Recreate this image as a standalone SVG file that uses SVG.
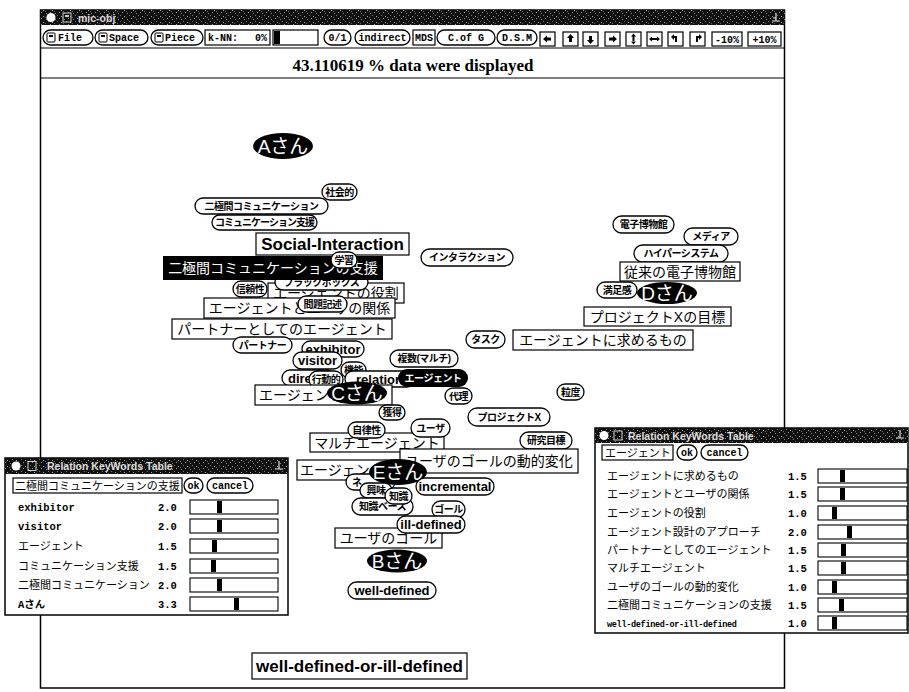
<svg xmlns="http://www.w3.org/2000/svg" width="909" height="692" viewBox="0 0 909 692">
<defs>
<pattern id="nz" width="9" height="6" patternUnits="userSpaceOnUse"><rect width="9" height="6" fill="#111"/><rect x="1" y="1" width="1" height="1" fill="#888"/><rect x="5" y="0" width="1" height="1" fill="#999"/><rect x="3" y="3" width="1" height="1" fill="#777"/><rect x="7" y="4" width="1" height="1" fill="#aaa"/><rect x="0" y="5" width="1" height="1" fill="#666"/></pattern>
<clipPath id="clipE"><rect x="297" y="460" width="103" height="20"/></clipPath>
<clipPath id="clipRel"><rect x="345" y="371" width="70" height="16" rx="8"/></clipPath>
</defs>
<style>
.box{fill:#fff;stroke:#000;stroke-width:1.2}
.pill{fill:#fff;stroke:#000;stroke-width:1.3}
.bk{fill:#000}
.fr{fill:#fff;stroke:#000;stroke-width:1.5}
.ln{stroke:#000;stroke-width:1.2}
.jb{font-family:"Liberation Sans","Noto Sans CJK JP",sans-serif;font-size:14px;fill:#000}
.jbc{font-family:"Liberation Sans","Noto Sans CJK JP",sans-serif;font-size:14px;fill:#000;text-anchor:middle}
.jp{font-family:"Liberation Sans","Noto Sans CJK JP",sans-serif;font-size:10px;font-weight:bold;text-anchor:middle;letter-spacing:-0.5px}
.lp{font-family:"Liberation Sans",sans-serif;font-size:13px;font-weight:bold;text-anchor:middle}
.lb{font-family:"Liberation Sans",sans-serif;font-size:17px;font-weight:bold;text-anchor:middle}
.per{font-family:"Liberation Sans","Noto Sans CJK JP",sans-serif;font-size:19px;fill:#fff;text-anchor:middle}
.tb{font-family:"Liberation Mono",monospace;font-size:10px;font-weight:bold;fill:#000}
.tbc{font-family:"Liberation Mono",monospace;font-size:10px;font-weight:bold;fill:#000;text-anchor:middle}
.tt{font-family:"Liberation Sans",sans-serif;font-size:10.5px;font-weight:bold;fill:#ddd}
.rj{font-family:"Liberation Mono","Noto Sans CJK JP",monospace;font-size:11px;fill:#000}
.rl{font-family:"Liberation Mono","Noto Sans CJK JP",monospace;font-size:10.5px;font-weight:bold;fill:#000}
.st{font-family:"Liberation Serif",serif;font-size:17px;font-weight:bold;text-anchor:middle}
.sl{fill:#fff;stroke:#000;stroke-width:1.1}
</style>

<g id="main-window">
<rect class="fr" x="40.5" y="10" width="744" height="678"/>
<rect x="40" y="10" width="745" height="15" fill="url(#nz)"/>
<circle cx="51" cy="17.5" r="4.5" fill="#fff"/>
<rect x="63" y="13" width="8" height="9" fill="none" stroke="#ccc" stroke-width="1"/>
<rect x="65" y="15" width="4" height="2" fill="#ccc"/>
<text class="tt" x="78" y="21.5">mic-obj</text>
<path d="M776,13 v8 M772,21 h8 M773,18 h3" stroke="#ddd" stroke-width="1.2" fill="none"/>
<line class="ln" x1="40" y1="48" x2="785" y2="48"/>
<line class="ln" x1="40" y1="78" x2="785" y2="78"/>
<text class="st" x="413" y="71">43.110619 % data were displayed</text>
</g>

<g id="toolbar">
<rect class="pill" x="43" y="30" width="50" height="15" rx="7.5"/>
<rect x="47" y="33" width="8" height="9" rx="1" fill="none" stroke="#000"/><rect x="49" y="35" width="4" height="2" fill="#000"/>
<text class="tb" x="58" y="41">File</text>
<rect class="pill" x="95" y="30" width="53" height="15" rx="7.5"/>
<rect x="99" y="33" width="8" height="9" rx="1" fill="none" stroke="#000"/><rect x="101" y="35" width="4" height="2" fill="#000"/>
<text class="tb" x="109" y="41">Space</text>
<rect class="pill" x="151" y="30" width="52" height="15" rx="7.5"/>
<rect x="155" y="33" width="8" height="9" rx="1" fill="none" stroke="#000"/><rect x="157" y="35" width="4" height="2" fill="#000"/>
<text class="tb" x="165" y="41">Piece</text>
<rect class="box" x="205" y="30" width="65" height="15"/>
<text class="tb" x="208" y="41">k-NN:</text><text class="tb" x="267" y="41" text-anchor="end">0%</text>
<rect class="box" x="273" y="30" width="45" height="15"/>
<rect x="274" y="31" width="6" height="13" fill="#000"/>
<rect class="pill" x="324" y="30" width="27" height="15" rx="7.5"/><text class="tbc" x="337.5" y="41">0/1</text>
<rect class="pill" x="355" y="30" width="55" height="15" rx="7.5"/><text class="tbc" x="382.5" y="41">indirect</text>
<rect class="box" x="413" y="30" width="22" height="15"/><text class="tbc" x="424" y="41" font-size="9">MDS</text>
<rect class="pill" x="437" y="30" width="58" height="15" rx="7.5"/><text class="tbc" x="466" y="41">C.of G</text>
<rect class="pill" x="497" y="30" width="40" height="15" rx="7.5"/><text class="tbc" x="517" y="41">D.S.M</text>
<rect class="box" x="540" y="32" width="15" height="14"/><path d="M543,39 l4,-3.5 v2 h4 v3 h-4 v2 z"/>
<rect class="box" x="563" y="32" width="15" height="14"/><path d="M570.5,34 l3.5,4 h-2 v4 h-3 v-4 h-2 z"/>
<rect class="box" x="583" y="32" width="15" height="14"/><path d="M590.5,44 l3.5,-4 h-2 v-4 h-3 v4 h-2 z"/>
<rect class="box" x="605" y="32" width="15" height="14"/><path d="M617,39 l-4,-3.5 v2 h-4 v3 h4 v2 z"/>
<rect class="box" x="626" y="32" width="15" height="14"/><path d="M633.5,33.5 l2.5,3 h-5 z M633.5,44.5 l2.5,-3 h-5 z M632.5,36 h2 v6 h-2 z"/>
<rect class="box" x="647" y="32" width="15" height="14"/><path d="M649,39 l3,-2.5 v5 z M660,39 l-3,-2.5 v5 z M652,38 h5 v2 h-5 z"/>
<rect class="box" x="668" y="32" width="15" height="14"/><path d="M671,37 l3,-3 v2 h3 v6 h-2 v-4 h-1 v2 z"/>
<rect class="box" x="690" y="32" width="15" height="14"/><path d="M702,37 l-3,-3 v2 h-3 v6 h2 v-4 h1 v2 z"/>
<rect class="box" x="712" y="32" width="30" height="14"/><text class="tbc" x="727" y="42.5">-10%</text>
<rect class="box" x="748" y="32" width="33" height="14"/><text class="tbc" x="764.5" y="42.5">+10%</text>
</g>

<g id="connectors"/>

<g id="nodes">
<g id="n-a"><ellipse class="bk" cx="283" cy="146" rx="30" ry="13"/><text class="per" x="283" y="152.5">Aさん</text></g>
<g id="n-shakai"><rect class="pill" x="322" y="184" width="35" height="16" rx="8"/><text class="jp" x="339.5" y="195.6">社会的</text></g>
<g id="n-nikyoku"><rect class="pill" x="195" y="198" width="133" height="16" rx="8"/><text class="jp" x="261.5" y="209.6">二極間コミュニケーション</text></g>
<g id="n-comshien"><rect class="pill" x="212" y="215" width="105" height="15" rx="7.5"/><text class="jp" x="264.5" y="226.1" style="letter-spacing:-1px">コミュニケーション支援</text></g>
<g id="n-social"><rect class="box" x="256" y="233" width="153" height="22"/><text class="lb" x="332.5" y="250">Social-Interaction</text></g>
<g id="n-interaction"><rect class="pill" x="421" y="249" width="92" height="17" rx="8.5"/><text class="jp" x="467" y="261.1">インタラクション</text></g>
<g id="n-yakuwari"><rect class="box" x="268" y="283" width="136" height="20"/><text class="jbc" x="336" y="298">エージェントの役割</text></g>
<g id="n-blackbox"><rect class="pill" x="275" y="274" width="93" height="16" rx="8"/><text class="jp" x="321.5" y="285.6">ブラックボックス</text></g>
<g id="n-nikyoku-shien"><rect class="bk" x="163" y="256" width="220" height="24"/><text class="jbc" x="273" y="273" style="fill:#fff">二極間コミュニケーションの支援</text></g>
<g id="n-gakushu"><rect class="pill" x="331" y="252" width="26" height="16" rx="8"/><text class="jp" x="344" y="263.6">学習</text></g>
<g id="n-shinrai"><rect class="pill" x="233" y="281" width="34" height="16" rx="8"/><text class="jp" x="250" y="292.6">信頼性</text></g>
<g id="n-kankei"><rect class="box" x="204" y="298" width="191" height="20"/><text class="jbc" x="299.5" y="313">エージェントとユーザの関係</text></g>
<g id="n-mondai"><rect class="pill" x="298" y="296" width="49" height="16" rx="8"/><text class="jp" x="322.5" y="307.6">問題記述</text></g>
<g id="n-partner-agent"><rect class="box" x="172" y="319" width="220" height="20"/><text class="jbc" x="282" y="334">パートナーとしてのエージェント</text></g>
<g id="n-partner"><rect class="pill" x="233" y="337" width="59" height="16" rx="8"/><text class="jp" x="262.5" y="348.6">パートナー</text></g>
<g id="n-exhibitor"><rect class="pill" x="302" y="341" width="62" height="16" rx="8"/><text class="lp" x="333" y="353.5">exhibitor</text></g>
<g id="n-visitor"><rect class="pill" x="293" y="352" width="49" height="17" rx="8.5"/><text class="lp" x="317.5" y="365">visitor</text></g>
<g id="n-kino"><rect class="pill" x="341" y="362" width="25" height="16" rx="8"/><text class="jp" x="353.5" y="373.6">機能</text></g>
<g id="n-direct"><rect class="pill" x="282" y="370" width="53" height="16" rx="8"/><text class="lp" x="288" y="382.5" style="text-anchor:start">direct</text></g>
<g id="n-relation"><rect class="pill" x="345" y="371" width="70" height="16" rx="8"/><text class="lp" x="356" y="383.5" clip-path="url(#clipRel)" style="text-anchor:start">relation</text></g>
<g id="n-kodo"><rect class="pill" x="309" y="371" width="34" height="17" rx="8.5"/><text class="jp" x="326" y="383.1">行動的</text></g>
<g id="n-agent-c"><rect class="box" x="255" y="385" width="137" height="20"/><text class="jb" x="259" y="400">エージェント</text></g>
<g id="n-c"><ellipse class="bk" cx="357" cy="393" rx="30" ry="11.5"/><text class="per" x="357" y="399.5">Cさん</text></g>
<g id="n-fukusu"><rect class="pill" x="390" y="350" width="68" height="17" rx="8.5"/><text class="jp" x="424" y="362.1">複数(マルチ)</text></g>
<g id="n-agent"><rect class="bk" x="398" y="369" width="70" height="18" rx="9"/><text class="jp" x="433" y="381.6" style="fill:#fff">エージェント</text></g>
<g id="n-task"><rect class="pill" x="466" y="331" width="39" height="17" rx="8.5"/><text class="jp" x="485.5" y="343.1">タスク</text></g>
<g id="n-motomeru"><rect class="box" x="513" y="330" width="180" height="20"/><text class="jbc" x="603" y="345">エージェントに求めるもの</text></g>
<g id="n-dairi"><rect class="pill" x="445" y="388" width="27" height="16" rx="8"/><text class="jp" x="458.5" y="399.6">代理</text></g>
<g id="n-kakutoku"><rect class="pill" x="379" y="405" width="26" height="15" rx="7.5"/><text class="jp" x="392" y="416.1">獲得</text></g>
<g id="n-ryudo"><rect class="pill" x="557" y="384" width="27" height="16" rx="8"/><text class="jp" x="570.5" y="395.6">粒度</text></g>
<g id="n-projx"><rect class="pill" x="468" y="408" width="82" height="18" rx="9"/><text class="jp" x="509" y="420.6">プロジェクトX</text></g>
<g id="n-kenkyu"><rect class="pill" x="520" y="432" width="52" height="17" rx="8.5"/><text class="jp" x="546" y="444.1">研究目標</text></g>
<g id="n-multi"><rect class="box" x="310" y="433" width="134" height="19"/><text class="jbc" x="377" y="447.5">マルチエージェント</text></g>
<g id="n-jiritsu"><rect class="pill" x="348" y="422" width="37" height="16" rx="8"/><text class="jp" x="366.5" y="433.6">自律性</text></g>
<g id="n-user"><rect class="pill" x="411" y="419" width="39" height="18" rx="9"/><text class="jp" x="430.5" y="431.6">ユーザ</text></g>
<g id="n-sekkei"><rect class="box" x="297" y="460" width="125" height="20"/><text class="jb" x="300" y="475" clip-path="url(#clipE)">エージェント設計のアプローチ</text></g>
<g id="n-ne"><rect class="pill" x="346" y="474" width="49" height="16" rx="8"/><text class="jp" x="352" y="485.6" style="text-anchor:start">ネ</text></g>
<g id="n-dotekihenka"><rect class="box" x="400" y="449" width="178" height="24"/><text class="jbc" x="489" y="466">ユーザのゴールの動的変化</text></g>
<g id="n-e"><ellipse class="bk" cx="398" cy="472" rx="29" ry="13"/><text class="per" x="398" y="478.5">Eさん</text></g>
<g id="n-incremental"><rect class="pill" x="416" y="478" width="78" height="17" rx="8.5"/><text class="lp" x="455" y="491">incremental</text></g>
<g id="n-kyomi"><rect class="pill" x="360" y="483" width="32" height="15" rx="7.5"/><text class="jp" x="376" y="494.1">興味</text></g>
<g id="n-chishikibase"><rect class="pill" x="352" y="498" width="61" height="17" rx="8.5"/><text class="jp" x="382.5" y="510.1">知識ベース</text></g>
<g id="n-chishiki"><rect class="pill" x="385" y="488" width="27" height="16" rx="8"/><text class="jp" x="398.5" y="499.6">知識</text></g>
<g id="n-goal"><rect class="pill" x="432" y="501" width="33" height="17" rx="8.5"/><text class="jp" x="448.5" y="513.1">ゴール</text></g>
<g id="n-usergoal"><rect class="box" x="335" y="528" width="107" height="20"/><text class="jbc" x="388.5" y="543">ユーザのゴール</text></g>
<g id="n-illdefined"><rect class="pill" x="397" y="516" width="68" height="17" rx="8.5"/><text class="lp" x="431" y="529">ill-defined</text></g>
<g id="n-b"><ellipse class="bk" cx="397" cy="561" rx="30" ry="11.5"/><text class="per" x="397" y="567.5">Bさん</text></g>
<g id="n-welldefined"><rect class="pill" x="348" y="582" width="88" height="17" rx="8.5"/><text class="lp" x="392" y="595">well-defined</text></g>
<g id="n-denshi"><rect class="pill" x="613" y="216" width="61" height="17" rx="8.5"/><text class="jp" x="643.5" y="228.1">電子博物館</text></g>
<g id="n-media"><rect class="pill" x="684" y="228" width="54" height="17" rx="8.5"/><text class="jp" x="711" y="240.1">メディア</text></g>
<g id="n-hyper"><rect class="pill" x="634" y="245" width="94" height="17" rx="8.5"/><text class="jp" x="681" y="257.1">ハイパーシステム</text></g>
<g id="n-jurai"><rect class="box" x="620" y="262" width="120" height="19"/><text class="jbc" x="680" y="276.5">従来の電子博物館</text></g>
<g id="n-manzoku"><rect class="pill" x="597" y="282" width="40" height="16" rx="8"/><text class="jp" x="617" y="293.6">満足感</text></g>
<g id="n-d"><ellipse class="bk" cx="667" cy="293" rx="30" ry="11"/><text class="per" x="667" y="299.5">Dさん</text></g>
<g id="n-projxgoal"><rect class="box" x="584" y="307" width="147" height="19"/><text class="jbc" x="657.5" y="321.5">プロジェクトXの目標</text></g>
<g id="n-wdoid"><rect class="box" x="252" y="653" width="215" height="26"/><text class="lb" x="359.5" y="672">well-defined-or-ill-defined</text></g>
</g>

<g id="table-left">
<rect class="fr" x="5" y="458" width="283" height="157"/>
<rect x="5" y="458" width="283" height="16" fill="url(#nz)"/>
<circle cx="16" cy="466" r="4.5" fill="#fff"/>
<rect x="28" y="461.5" width="8" height="9" fill="none" stroke="#ccc"/>
<text class="tt" x="47" y="470">Relation KeyWords Table</text>
<path d="M279,461 v8 M275,469 h8" stroke="#ddd" stroke-width="1.2" fill="none"/>
<rect class="box" x="13" y="478" width="169" height="15"/>
<text class="rj" x="15" y="489.5">二極間コミュニケーションの支援</text>
<rect class="pill" x="184" y="478" width="19" height="15" rx="7.5"/><text class="tbc" x="193.5" y="489">ok</text>
<rect class="pill" x="207" y="478" width="46" height="15" rx="7.5"/><text class="tbc" x="230" y="489">cancel</text>
<text class="rl" x="18" y="511">exhibitor</text><text class="rl" x="158" y="511">2.0</text><rect class="sl" x="190" y="500" width="88" height="14"/><rect class="bk" x="217" y="501" width="5" height="12"/>
<text class="rl" x="18" y="530">visitor</text><text class="rl" x="158" y="530">2.0</text><rect class="sl" x="190" y="519" width="88" height="14"/><rect class="bk" x="217" y="520" width="5" height="12"/>
<text class="rj" x="18" y="550">エージェント</text><text class="rl" x="158" y="550">1.5</text><rect class="sl" x="190" y="539" width="88" height="14"/><rect class="bk" x="212" y="540" width="5" height="12"/>
<text class="rj" x="18" y="570">コミュニケーション支援</text><text class="rl" x="158" y="570">1.5</text><rect class="sl" x="190" y="559" width="88" height="14"/><rect class="bk" x="211" y="560" width="5" height="12"/>
<text class="rj" x="18" y="589">二極間コミュニケーション</text><text class="rl" x="158" y="589">2.0</text><rect class="sl" x="190" y="578" width="88" height="14"/><rect class="bk" x="217" y="579" width="5" height="12"/>
<text class="rl" x="18" y="608">Aさん</text><text class="rl" x="158" y="608">3.3</text><rect class="sl" x="190" y="597" width="88" height="14"/><rect class="bk" x="234" y="598" width="5" height="12"/>
</g>

<g id="table-right">
<rect class="fr" x="595" y="428" width="313" height="205"/>
<rect x="595" y="428" width="313" height="15" fill="url(#nz)"/>
<circle cx="604" cy="435.5" r="4.5" fill="#fff"/>
<rect x="614" y="431" width="8" height="9" fill="none" stroke="#ccc"/>
<text class="tt" x="628" y="439.5">Relation KeyWords Table</text>
<path d="M900,430 v8 M896,438 h8" stroke="#ddd" stroke-width="1.2" fill="none"/>
<rect class="box" x="602" y="445" width="71" height="15"/>
<text class="rj" x="605" y="456.5">エージェント</text>
<rect class="pill" x="677" y="445" width="20" height="15" rx="7.5"/><text class="tbc" x="687" y="456">ok</text>
<rect class="pill" x="701" y="445" width="47" height="15" rx="7.5"/><text class="tbc" x="724.5" y="456">cancel</text>
<text class="rj" x="607" y="480">エージェントに求めるもの</text><text class="rl" x="788" y="480">1.5</text><rect class="sl" x="818" y="469" width="89" height="14"/><rect class="bk" x="840" y="470" width="5" height="12"/>
<text class="rj" x="607" y="498">エージェントとユーザの関係</text><text class="rl" x="788" y="498">1.5</text><rect class="sl" x="818" y="487" width="89" height="14"/><rect class="bk" x="840" y="488" width="5" height="12"/>
<text class="rj" x="607" y="517">エージェントの役割</text><text class="rl" x="788" y="517">1.0</text><rect class="sl" x="818" y="506" width="89" height="14"/><rect class="bk" x="832" y="507" width="5" height="12"/>
<text class="rj" x="607" y="536">エージェント設計のアプローチ</text><text class="rl" x="788" y="536">2.0</text><rect class="sl" x="818" y="525" width="89" height="14"/><rect class="bk" x="847" y="526" width="5" height="12"/>
<text class="rj" x="607" y="554">パートナーとしてのエージェント</text><text class="rl" x="788" y="554">1.5</text><rect class="sl" x="818" y="543" width="89" height="14"/><rect class="bk" x="841" y="544" width="5" height="12"/>
<text class="rj" x="607" y="572">マルチエージェント</text><text class="rl" x="788" y="572">1.5</text><rect class="sl" x="818" y="561" width="89" height="14"/><rect class="bk" x="841" y="562" width="5" height="12"/>
<text class="rj" x="607" y="591">ユーザのゴールの動的変化</text><text class="rl" x="788" y="591">1.0</text><rect class="sl" x="818" y="580" width="89" height="14"/><rect class="bk" x="832" y="581" width="5" height="12"/>
<text class="rj" x="607" y="609">二極間コミュニケーションの支援</text><text class="rl" x="788" y="609">1.5</text><rect class="sl" x="818" y="598" width="89" height="14"/><rect class="bk" x="839" y="599" width="5" height="12"/>
<text class="rl" x="607" y="627" style="font-size:8.5px;letter-spacing:-0.3px">well-defined-or-ill-defined</text><text class="rl" x="788" y="627">1.0</text><rect class="sl" x="818" y="616" width="89" height="14"/><rect class="bk" x="832" y="617" width="5" height="12"/>
</g>
</svg>
